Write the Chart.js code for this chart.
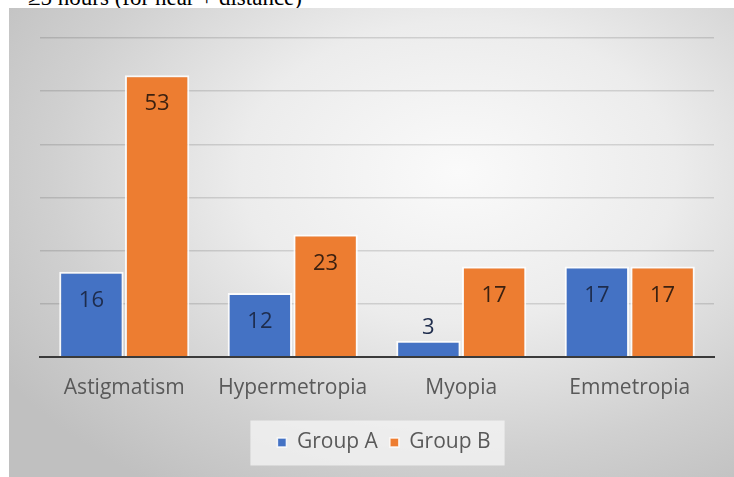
<!DOCTYPE html>
<html>
<head>
<meta charset="utf-8">
<script src="https://cdn.jsdelivr.net/npm/chart.js@4.4.1/dist/chart.umd.min.js"></script>
<style>
  html, body { margin: 0; padding: 0; background: #fff; overflow: hidden; }
  body { width: 734px; height: 477px; position: relative; }
  #caption {
    position: absolute; right: 432px; top: -14px;
    font-family: "Liberation Serif", "DejaVu Serif", serif;
    font-size: 23px; line-height: 23px; white-space: nowrap; color: #000;
  }
  #box {
    position: absolute; left: 9px; top: 8px; width: 725px; height: 469px;
    background: radial-gradient(ellipse 75% 80% at 62% 35%, #fafafa 0%, #ececec 40%, #d0d0d0 75%, #c0c0c0 100%);
  }
</style>
</head>
<body>
<div id="caption">≥5 hours (for near + distance)</div>
<div id="box"><canvas id="canvas" width="725" height="469"></canvas></div>
<script>
const categories = ['Astigmatism', 'Hypermetropia', 'Myopia', 'Emmetropia'];
const groupA = [16, 12, 3, 17];
const groupB = [53, 23, 17, 17];
const seriesNames = ['Group A', 'Group B'];
const yTicks = [0, 10, 20, 30, 40, 50, 60];

const labelColors = ['#1e2c4c', '#3c2110'];

// value labels: inside near the top, or above when the bar is short
const valueLabels = {
  id: 'valueLabels',
  afterDatasetsDraw(chart) {
    const ctx = chart.ctx;
    ctx.save();
    ctx.font = '22px "Open Sans", sans-serif';
    ctx.textAlign = 'center';
    ctx.textBaseline = 'middle';
    chart.data.datasets.forEach((ds, i) => {
      chart.getDatasetMeta(i).data.forEach((bar, j) => {
        const h = bar.base - bar.y;
        const y = h > 40 ? bar.y + 29 : bar.y - 13;
        ctx.fillStyle = labelColors[i];
        ctx.fillText(ds.data[j], bar.x, y);
      });
    });
    ctx.restore();
  }
};

// nudge the legend a little right and put a light panel behind it
const legendPanel = {
  id: 'legendPanel',
  afterLayout(chart) {
    chart.legend.left += 7;
    chart.legend.right += 7;
  },
  beforeDraw(chart) {
    const lg = chart.legend;
    if (!lg || !lg.legendHitBoxes.length) return;
    const boxes = lg.legendHitBoxes;
    const last = boxes[boxes.length - 1];
    const x0 = boxes[0].left - 27;
    const x1 = last.left + last.width + 14;
    const yc = boxes[0].top + boxes[0].height / 2;
    const ctx = chart.ctx;
    ctx.save();
    ctx.fillStyle = 'rgba(245,245,245,0.75)';
    ctx.fillRect(x0, yc - 22, x1 - x0, 45);
    ctx.restore();
  }
};

new Chart(document.getElementById('canvas').getContext('2d'), {
  type: 'bar',
  data: {
    labels: categories,
    datasets: [{
      label: seriesNames[0],
      data: groupA,
      backgroundColor: '#4472c4',
      borderColor: 'rgba(255,255,255,0.85)',
      borderWidth: { left: 2, right: 2, top: 2, bottom: 0 },
      borderSkipped: 'start'
    }, {
      label: seriesNames[1],
      data: groupB,
      backgroundColor: '#ed7d31',
      borderColor: 'rgba(255,255,255,0.85)',
      borderWidth: { left: 2, right: 2, top: 2, bottom: 0 },
      borderSkipped: 'start'
    }]
  },
  options: {
    responsive: false,
    animation: false,
    layout: { padding: { left: 31, right: 20, top: 30, bottom: 14 } },
    datasets: { bar: { categoryPercentage: 0.78, barPercentage: 0.98 } },
    scales: {
      y: {
        min: yTicks[0],
        max: yTicks[yTicks.length - 1],
        afterBuildTicks(axis) { axis.ticks = yTicks.map(v => ({ value: v })); },
        ticks: { display: false },
        grid: { color: 'rgba(0,0,0,0.13)', lineWidth: 1.5, drawTicks: false },
        border: { display: false }
      },
      x: {
        grid: { display: false, drawTicks: false },
        border: { display: true, color: '#3a3a3a', width: 2 },
        ticks: {
          color: '#595959',
          padding: 19,
          font: { family: '"Open Sans", sans-serif', size: 21 }
        }
      }
    },
    plugins: {
      legend: {
        position: 'bottom',
        labels: {
          color: '#595959',
          boxWidth: 9,
          boxHeight: 9,
          padding: 12,
          font: { family: '"Open Sans", sans-serif', size: 21 }
        }
      },
      tooltip: { enabled: false }
    }
  },
  plugins: [legendPanel, valueLabels]
});
</script>
</body>
</html>
